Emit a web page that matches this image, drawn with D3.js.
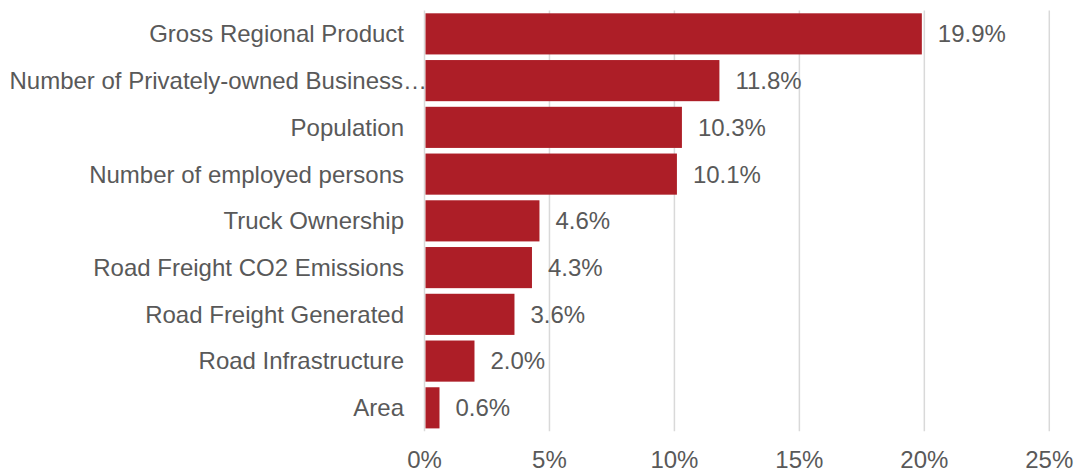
<!DOCTYPE html>
<html>
<head>
<meta charset="utf-8">
<script src="https://cdn.jsdelivr.net/npm/d3@7"></script>
<style>
  html, body { margin: 0; padding: 0; background: #fff; }
  svg { display: block; font-family: "Liberation Sans", Arial, sans-serif; }
</style>
</head>
<body>
<svg id="chart" width="1077" height="473"></svg>
<script>
// Share of each factor (percent)
const categories = [
  "Gross Regional Product",
  "Number of Privately-owned Business\u2026",
  "Population",
  "Number of employed persons",
  "Truck Ownership",
  "Road Freight CO2 Emissions",
  "Road Freight Generated",
  "Road Infrastructure",
  "Area"
];
const values = [19.9, 11.8, 10.3, 10.1, 4.6, 4.3, 3.6, 2.0, 0.6];
const tickValues = [0, 5, 10, 15, 20, 25];
const tickLabels = ["0%", "5%", "10%", "15%", "20%", "25%"];

const svg = d3.select("#chart");
const x0 = 424.5, x1 = 1049.3;
const yTop = 10.5, yBottom = 431.2;

const x = d3.scaleLinear().domain([0, 25]).range([x0, x1]);
const y = d3.scaleBand().domain(categories).range([yTop, yBottom]).paddingInner(0.12).paddingOuter(0.06);

const textColor = "#595959";
const fontSize = 24;

// Vertical gridlines
svg.append("g").selectAll("line")
  .data(tickValues)
  .join("line")
  .attr("x1", d => x(d)).attr("x2", d => x(d))
  .attr("y1", yTop).attr("y2", yBottom)
  .attr("stroke", "#d9d9d9").attr("stroke-width", 1.5);

// Bars
svg.append("g").selectAll("rect")
  .data(values)
  .join("rect")
  .attr("x", x(0) + 1)
  .attr("y", (d, i) => y(categories[i]))
  .attr("width", d => x(d) - x(0) - 1)
  .attr("height", y.bandwidth())
  .attr("fill", "#ad1e27");

// Value labels
svg.append("g").selectAll("text")
  .data(values)
  .join("text")
  .attr("x", d => x(d) + 16)
  .attr("y", (d, i) => y(categories[i]) + y.bandwidth() / 2)
  .attr("dy", "0.35em")
  .attr("fill", textColor)
  .attr("font-size", fontSize)
  .text(d => d.toFixed(1) + "%");

// Category labels
svg.append("g").selectAll("text")
  .data(categories)
  .join("text")
  .attr("x", (d, i) => i === 1 ? 427 : 404)
  .attr("y", d => y(d) + y.bandwidth() / 2)
  .attr("dy", "0.35em")
  .attr("text-anchor", "end")
  .attr("fill", textColor)
  .attr("font-size", fontSize)
  .text(d => d);

// X axis tick labels
svg.append("g").selectAll("text")
  .data(tickValues)
  .join("text")
  .attr("x", d => x(d))
  .attr("y", 460)
  .attr("dy", "0.35em")
  .attr("text-anchor", "middle")
  .attr("fill", textColor)
  .attr("font-size", fontSize)
  .text((d, i) => tickLabels[i]);
</script>
</body>
</html>
